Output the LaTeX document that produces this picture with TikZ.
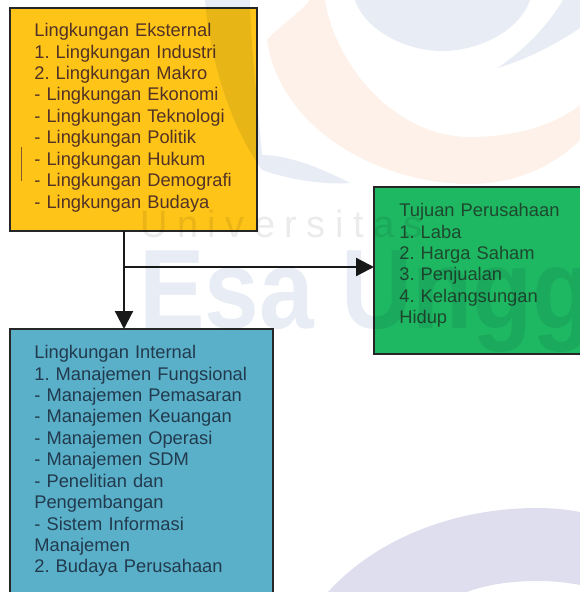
\documentclass[tikz,border=0pt]{standalone}
\usepackage{fontspec}
\usepackage{graphicx}
\setmainfont{Liberation Sans}
\newfontfamily\wmsmall[LetterSpace=25]{Liberation Sans}
\frenchspacing
\usetikzlibrary{arrows.meta}
\definecolor{kuning}{RGB}{254,196,24}
\definecolor{biru}{RGB}{90,176,200}
\definecolor{hijau}{RGB}{30,183,98}
\definecolor{garis}{RGB}{38,38,38}
\definecolor{tekskuning}{RGB}{82,50,38}
\definecolor{teksbiru}{RGB}{34,58,78}
\definecolor{tekshijau}{RGB}{30,72,46}
\definecolor{wmoranye}{RGB}{253,241,234}
\definecolor{wmbiru}{RGB}{232,236,244}
\definecolor{wmungu}{RGB}{222,222,238}
\tikzset{kotak/.style = {draw = garis, line width = 0.04cm, inner sep = 0, outer sep = 0, anchor = north west},
         teks/.style = {anchor = north west, inner sep = 0, text width = #1, align = left,
                        font = \fontsize{10.42}{12.2}\selectfont},
         teks/.default = 4.6cm,
         panah/.style = {line width = 0.045cm, draw = black!90, -{Triangle[length = 0.36cm, width = 0.36cm]}}
        }

\begin{document}
\begin{tikzpicture}[x=0.02cm,y=-0.02cm]
\useasboundingbox (0,0) rectangle (580,592);
\clip (0,0) rectangle (580,592);
\node[kotak, fill = kuning, minimum width = 4.94cm, minimum height = 4.47cm] at (10,8) (eks) {};
\node[kotak, fill = hijau, minimum width = 5cm, minimum height = 3.34cm] at (374,187) (tuj) {};
\node[kotak, fill = biru, minimum width = 5.26cm, minimum height = 6cm] at (10,329) (int) {};
\node[teks, text = tekskuning] at (34,23) (eksT) {Lingkungan Eksternal\\
1. Lingkungan Industri\\
2. Lingkungan Makro\\
- Lingkungan Ekonomi\\
- Lingkungan Teknologi\\
- Lingkungan Politik\\
- Lingkungan Hukum\\
- Lingkungan Demografi\\
- Lingkungan Budaya};
\node[teks, text = tekshijau] at (399,203) (tujT) {Tujuan Perusahaan\\
1. Laba\\
2. Harga Saham\\
3. Penjualan\\
4. Kelangsungan\\
Hidup};
\node[teks, text = teksbiru] at (34,345) (intT) {Lingkungan Internal\\
1. Manajemen Fungsional\\
- Manajemen Pemasaran\\
- Manajemen Keuangan\\
- Manajemen Operasi\\
- Manajemen SDM\\
- Penelitian dan\\
Pengembangan\\
- Sistem Informasi\\
Manajemen\\
2. Budaya Perusahaan};
\coordinate (cab) at (124,267);
\draw[panah] (cab |- eks.south) -- (cab |- int.north);
\draw[panah] (cab) -- (cab -| tuj.west);
\draw[brown!70!black, line width = 0.02cm] (21,147) -- (21,181);
\begin{scope}[blend mode = multiply]
\fill[wmoranye] (267,40) .. controls (280,25) and (298,15) .. (310,0) -- (325,0)
  .. controls (335,65) and (395,137) .. (470,137) .. controls (515,137) and (555,125) .. (580,105)
  -- (580,140) .. controls (550,170) and (510,184) .. (470,184)
  .. controls (380,184) and (280,130) .. (267,40) -- cycle;
\fill[wmbiru] (355,0) .. controls (365,30) and (405,51) .. (442,51) .. controls (480,51) and (520,30) .. (530,0) -- cycle;
\fill[wmbiru] (497,68) .. controls (525,50) and (548,25) .. (563,0) -- (580,0) -- (580,28)
  .. controls (555,45) and (525,60) .. (497,68) -- cycle;
\fill[wmbiru] (205,0) .. controls (210,60) and (230,125) .. (262,170) .. controls (290,180) and (325,185) .. (350,183)
  .. controls (325,170) and (290,155) .. (262,155) .. controls (258,110) and (250,40) .. (250,0) -- cycle;
\fill[wmungu] (328,592) .. controls (380,535) and (460,508) .. (537,508) .. controls (555,508) and (570,510) .. (580,512)
  -- (580,585) .. controls (565,582) and (550,581) .. (537,581) .. controls (510,581) and (485,585) .. (467,592) -- cycle;
\node[anchor = base west, inner sep = 0, text = black!8, font = \wmsmall\fontsize{21.6}{24}\selectfont] at (140,237) (univ) {Universitas};
\node[anchor = base west, inner sep = 0, text = wmbiru, font = \bfseries\fontsize{64.3}{70}\selectfont] at (139,328) (esa) {\scalebox{.87}[1]{Esa Ungg}};
\end{scope}
\end{tikzpicture}
\end{document}
